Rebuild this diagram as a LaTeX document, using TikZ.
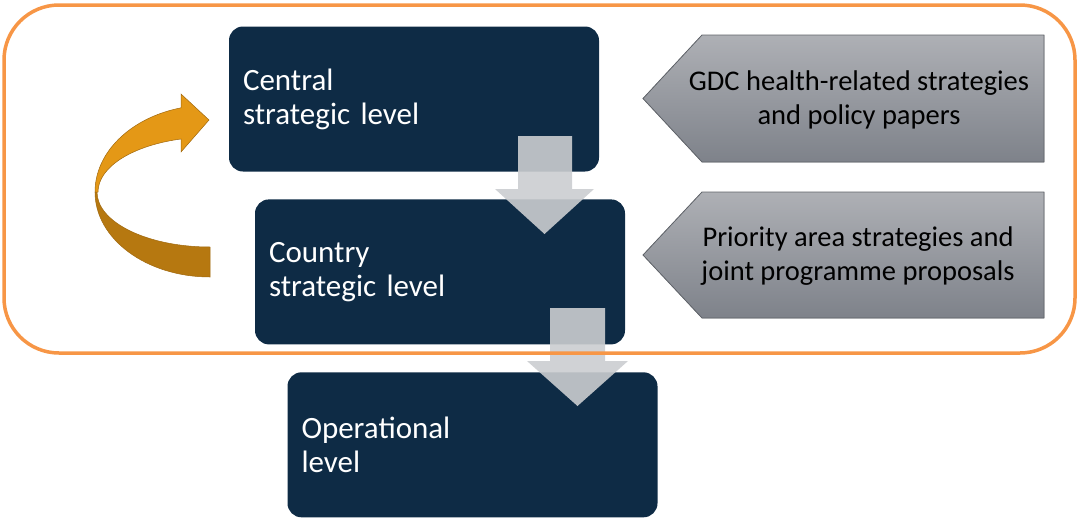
\documentclass[tikz,border=0pt]{standalone}
\usepackage{fontspec}
\setmainfont{Carlito}
\usetikzlibrary{positioning}
\definecolor{levelnavy}{RGB}{14,43,69}
\definecolor{arrowgray}{RGB}{203,205,208}
\definecolor{doctop}{RGB}{174,176,181}
\definecolor{docbottom}{RGB}{126,130,138}
\definecolor{docedge}{RGB}{96,100,106}
\definecolor{looplight}{RGB}{228,152,22}
\definecolor{loopdark}{RGB}{182,120,16}
\definecolor{loopedge}{RGB}{160,104,14}
\definecolor{frameorange}{RGB}{247,150,70}

\begin{document}
\begin{tikzpicture}[x=1pt,y=-1pt,
    levelbox/.style={fill=levelnavy, rounded corners=14pt, text=white,
      font=\fontsize{31}{34}\selectfont, text width=342pt, inner xsep=14pt,
      minimum height=145pt, align=left},
    docbox/.style={draw=docedge, line width=0.8pt, top color=doctop, bottom color=docbottom},
    doctext/.style={font=\fontsize{28.5}{33.5}\selectfont, align=center, text=black},
    downarrow/.style={fill=arrowgray, fill opacity=0.9}]
  \useasboundingbox (0,0) rectangle (1079,517);
  % three levels
  \node[levelbox] (central) at (414,99) {Central\\strategic level};
  \node[levelbox, below=27.5pt of central, xshift=26pt] (country) {Country\\strategic level};
  \node[levelbox, below=27.5pt of country, xshift=32.5pt] (operational) {Operational\\level};
  % block arrows between levels
  \fill[downarrow] (518,136) -- (572,136) -- (572,189) -- (594,189) -- (544.5,234) -- (495,189) -- (518,189) -- cycle;
  \fill[downarrow] (550,308) -- (605,308) -- (605,361) -- (628,361) -- (577.5,406) -- (527,361) -- (550,361) -- cycle;
  % input documents
  \filldraw[docbox] (643,98.5) -- (702,35) -- (1044,35) -- (1044,162) -- (702,162) -- cycle;
  \node[doctext] (gdc) at (859,100) {GDC health-related strategies\\and policy papers};
  \filldraw[docbox] (643,255) -- (702,192) -- (1044,192) -- (1044,318) -- (702,318) -- cycle;
  \node[doctext] (priority) at (858,256) {Priority area strategies and\\joint programme proposals};
  % feedback loop arrow
  \filldraw[fill=loopdark, draw=loopedge, line width=0.5pt] (210,277) arc[start angle=90, end angle=180, x radius=115, y radius=85]
    -- (97,192) arc[start angle=180, end angle=90, x radius=113, y radius=55] -- cycle;
  \filldraw[fill=looplight, draw=loopedge, line width=0.5pt] (95,192) arc[start angle=180, end angle=255.4, x radius=115, y radius=87]
    -- (181,94) -- (209,120) -- (181,152) -- (181,139) arc[start angle=254.6, end angle=180, x radius=113, y radius=55] -- cycle;
  % strategic frame
  \draw[frameorange, line width=3.5pt, rounded corners=55pt] (4,5) rectangle (1075,353);
\end{tikzpicture}
\end{document}
